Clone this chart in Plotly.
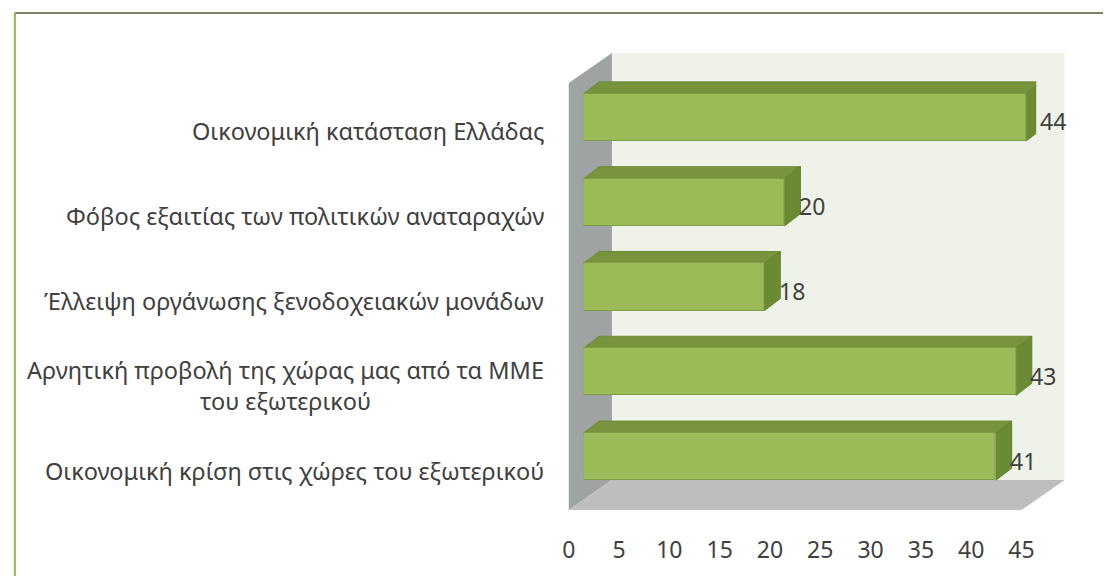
import plotly.graph_objects as go

# Survey answers (bottom to top) and their counts
categories = [
    "Οικονομική κρίση στις χώρες του εξωτερικού",
    "Αρνητική προβολή της χώρας μας από τα ΜΜΕ<br>του εξωτερικού",
    "Έλλειψη οργάνωσης ξενοδοχειακών μονάδων",
    "Φόβος εξαιτίας των πολιτικών αναταραχών",
    "Οικονομική κατάσταση Ελλάδας",
]
values = [41, 43, 18, 20, 44]
x_ticks = [0, 5, 10, 15, 20, 25, 30, 35, 40, 45]

W, H = 1116, 576
FONT = "Noto Sans"
TEXT = "#404040"

# Floor-front plane of the pseudo-3D box, in pixels
LEFT, RIGHT, BOTTOM, TOP = 572, 1033, 510, 86
X_MAX = 45
N = len(categories)
PPX = (RIGHT - LEFT) / X_MAX
PPY = (BOTTOM - TOP) / N
WALL_DX, WALL_DY = 44, 30       # depth of the box
BAR_FX, BAR_FY = 15, 11         # front face of the bars sits this far back
BAR_DX, BAR_DY = 16, 12         # bar thickness in depth
BAR_W = 0.555                   # bar height in category units

FRONT = "#9BBB59"
TOP_C = "#77933C"
SIDE_C = "#6A8A34"
EDGE = "#7F9C48"


def fx(px):
    return px / W


def fy(py):
    return 1 - py / H


def ppath(points):
    return "M " + " L ".join(f"{fx(x):.5f},{fy(y):.5f}" for x, y in points) + " Z"


shapes = []

# back wall
shapes.append(dict(type="rect", xref="paper", yref="paper",
                   x0=fx(LEFT + WALL_DX), x1=fx(RIGHT + WALL_DX),
                   y0=fy(BOTTOM - WALL_DY), y1=fy(TOP - 3 - WALL_DY),
                   fillcolor="#EFF2E8", line=dict(width=0), layer="below"))
# side wall
shapes.append(dict(type="path", xref="paper", yref="paper",
                   path=ppath([(LEFT, BOTTOM), (LEFT, TOP - 3),
                               (LEFT + WALL_DX, TOP - 3 - WALL_DY),
                               (LEFT + WALL_DX, BOTTOM - WALL_DY)]),
                   fillcolor="#A0A3A3", line=dict(width=0), layer="below"))
# floor
shapes.append(dict(type="path", xref="paper", yref="paper",
                   path=ppath([(LEFT, BOTTOM), (RIGHT, BOTTOM),
                               (RIGHT + WALL_DX, BOTTOM - WALL_DY),
                               (LEFT + WALL_DX, BOTTOM - WALL_DY)]),
                   fillcolor="#BEBEBE", line=dict(width=0), layer="below"))

# frame lines of the chart area
shapes.append(dict(type="line", xref="paper", yref="paper",
                   x0=fx(8), x1=1, y0=fy(13), y1=fy(13),
                   line=dict(color="#7E846A", width=2)))
shapes.append(dict(type="line", xref="paper", yref="paper",
                   x0=fx(8), x1=fx(8), y0=fy(13), y1=0,
                   line=dict(color="#8DB552", width=2)))

# top and side faces of the bars, in the front-face axes
ddx = BAR_DX / PPX
ddy = BAR_DY / PPY
for i, v in enumerate(values):
    yb, yt = i - BAR_W / 2, i + BAR_W / 2
    shapes.append(dict(type="path", xref="x2", yref="y2", layer="below",
                       path=f"M 0,{yt} L {v},{yt} L {v + ddx},{yt + ddy} L {ddx},{yt + ddy} Z",
                       fillcolor=TOP_C, line=dict(color="#6E8A36", width=1)))
    shapes.append(dict(type="path", xref="x2", yref="y2", layer="below",
                       path=f"M {v},{yb} L {v},{yt} L {v + ddx},{yt + ddy} L {v + ddx},{yb + ddy} Z",
                       fillcolor=SIDE_C, line=dict(color="#62802F", width=1)))

fig = go.Figure()
fig.add_trace(go.Bar(
    x=values, y=list(range(N)), orientation="h", width=BAR_W,
    marker=dict(color=FRONT, line=dict(color=EDGE, width=1)),
    xaxis="x2", yaxis="y2", showlegend=False, hoverinfo="x",
))

annotations = []
# category labels, right aligned against the box
for i, lab in enumerate(categories):
    annotations.append(dict(text=lab, xref="paper", yref="y", x=fx(549), y=i,
                            xanchor="right", yanchor="middle", align="center",
                            showarrow=False, yshift=-3,
                            font=dict(family=FONT, size=23.5, color=TEXT)))
# value labels next to each bar
for i, v in enumerate(values):
    annotations.append(dict(text=str(v), xref="x2", yref="y2", x=v, y=i,
                            xanchor="left", yanchor="middle", showarrow=False,
                            xshift=12, yshift=-4,
                            font=dict(family=FONT, size=23, color=TEXT)))

fig.update_layout(
    width=W, height=H, margin=dict(l=0, r=0, t=0, b=0),
    paper_bgcolor="white", plot_bgcolor="rgba(0,0,0,0)",
    shapes=shapes, annotations=annotations, bargap=0,
    xaxis=dict(domain=[fx(LEFT), fx(RIGHT)], range=[0, X_MAX], anchor="y",
               tickvals=x_ticks, ticktext=[str(t) for t in x_ticks],
               ticks="outside", ticklen=19, tickcolor="rgba(0,0,0,0)",
               showgrid=False, zeroline=False, showline=False,
               tickfont=dict(family=FONT, size=23, color=TEXT)),
    yaxis=dict(domain=[fy(BOTTOM), fy(TOP)], range=[-0.5, N - 0.5], anchor="x",
               showticklabels=False, showgrid=False, zeroline=False, showline=False),
    xaxis2=dict(domain=[fx(LEFT + BAR_FX), fx(RIGHT + BAR_FX)], range=[0, X_MAX],
                anchor="y2", visible=False),
    yaxis2=dict(domain=[fy(BOTTOM - BAR_FY), fy(TOP - BAR_FY)], range=[-0.5, N - 0.5],
                anchor="x2", visible=False),
)

fig.write_html("out.html")
